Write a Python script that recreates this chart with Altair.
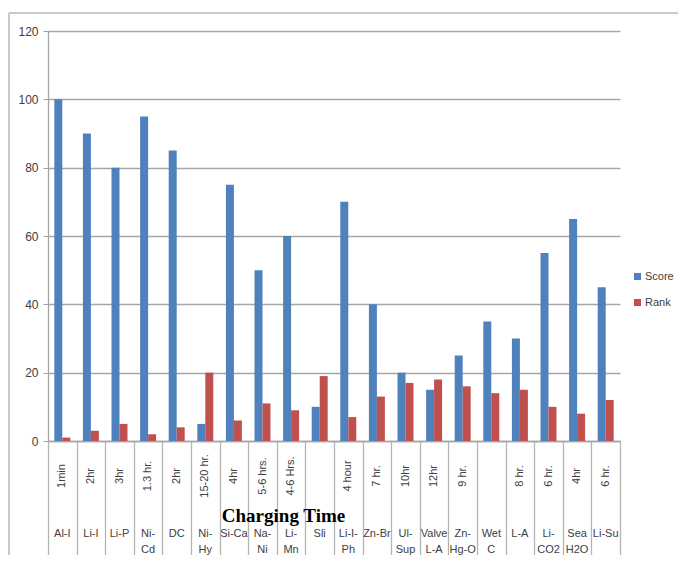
import altair as alt
import pandas as pd

chem = ["Al-I", "Li-I", "Li-P", "Ni-Cd", "DC", "Ni-Hy", "Si-Ca", "Na-Ni", "Li-Mn", "Sli",
        "Li-I-Ph", "Zn-Br", "Ul-Sup", "Valve L-A", "Zn-Hg-O", "Wet C", "L-A", "Li-CO2",
        "Sea H2O", "Li-Su"]
chem_lines = ["Al-I", "Li-I", "Li-P", "Ni-\nCd", "DC", "Ni-\nHy", "Si-Ca", "Na-\nNi", "Li-\nMn",
              "Sli", "Li-I-\nPh", "Zn-Br", "Ul-\nSup", "Valve\nL-A", "Zn-\nHg-O", "Wet\nC",
              "L-A", "Li-\nCO2", "Sea\nH2O", "Li-Su"]
charge_time = ["1min", "2hr", "3hr", "1.3 hr.", "2hr", "15-20 hr.", "4hr", "5-6 hrs.",
               "4-6 Hrs.", "", "4 hour", "7 hr.", "10hr", "12hr", "9 hr.", "", "8 hr.",
               "6 hr.", "4hr", "6 hr."]
score = [100, 90, 80, 95, 85, 5, 75, 50, 60, 10, 70, 40, 20, 15, 25, 35, 30, 55, 65, 45]
rank = [1, 3, 5, 2, 4, 20, 6, 11, 9, 19, 7, 13, 17, 18, 16, 14, 15, 10, 8, 12]
series = ["Score", "Rank"]
colors = ["#4F81BD", "#C0504D"]
y_ticks = [0, 20, 40, 60, 80, 100, 120]

rows = []
for i, c in enumerate(chem):
    rows.append({"chem": c, "series": "Score", "value": score[i]})
    rows.append({"chem": c, "series": "Rank", "value": rank[i]})
df = pd.DataFrame(rows)
labels_df = pd.DataFrame({"chem": chem, "lines": chem_lines, "time": charge_time})

label_font = "Liberation Sans"

x_enc = alt.X(
    "chem:N", sort=chem,
    scale=alt.Scale(paddingInner=0, paddingOuter=0),
    axis=alt.Axis(
        labels=False, tickBand="extent", tickSize=118, tickColor="#b4b4b4", tickWidth=1.3,
        domainColor="#a6a6a6", domainWidth=1.3,
        title="Charging Time", titleFont="Liberation Serif", titleFontSize=19,
        titleFontWeight="bold", titleColor="#000000", titleX=235, titleY=80,
        titleBaseline="alphabetic", titleAlign="center",
    ),
)

bars = alt.Chart(df).mark_bar().encode(
    x=x_enc,
    xOffset=alt.XOffset("series:N", sort=series,
                        scale=alt.Scale(paddingInner=0, paddingOuter=0.79)),
    y=alt.Y("value:Q", scale=alt.Scale(domain=[0, 120]),
            axis=alt.Axis(values=y_ticks, grid=True, gridColor="#a6a6a6", gridWidth=1.3,
                          domainColor="#a6a6a6", domainWidth=1.3, tickColor="#a6a6a6",
                          tickSize=5, labelPadding=5, labelFontSize=12, labelFont=label_font,
                          labelColor="#404040", title=None)),
    color=alt.Color("series:N", sort=series,
                    scale=alt.Scale(domain=series, range=colors),
                    legend=alt.Legend(orient="none", legendX=584, legendY=240, title=None,
                                      symbolType="square", symbolSize=50,
                                      symbolStrokeWidth=0, labelFontSize=11,
                                      labelFont=label_font, labelColor="#404040",
                                      labelOffset=2, rowPadding=14)),
)

time_text = alt.Chart(labels_df).mark_text(
    angle=270, align="center", baseline="middle", fontSize=11, font=label_font,
    color="#404040"
).encode(x=alt.X("chem:N", sort=chem), y=alt.value(445), text="time:N")

chem_text = alt.Chart(labels_df).mark_text(
    align="center", baseline="alphabetic", fontSize=11, font=label_font,
    color="#404040", lineBreak="\n", lineHeight=16
).encode(x=alt.X("chem:N", sort=chem), y=alt.value(506), text="lines:N")

frame_left = alt.Chart(labels_df).mark_rule(color="#c8c8c8", strokeWidth=1.5).encode(
    x=alt.value(-39), y=alt.value(-18), y2=alt.value(530))
frame_top = alt.Chart(labels_df).mark_rule(color="#c8c8c8", strokeWidth=1.5).encode(
    x=alt.value(-39), x2=alt.value(630), y=alt.value(-18))

chart = alt.layer(bars, time_text, chem_text, frame_left, frame_top).properties(
    width=572, height=410,
    autosize=alt.AutoSizeParams(type="none"),
    padding={"left": 40, "top": 23, "right": 58, "bottom": 114},
).configure_view(stroke=None)

chart.save("out.html", embed_options={"renderer": "svg", "actions": False})
